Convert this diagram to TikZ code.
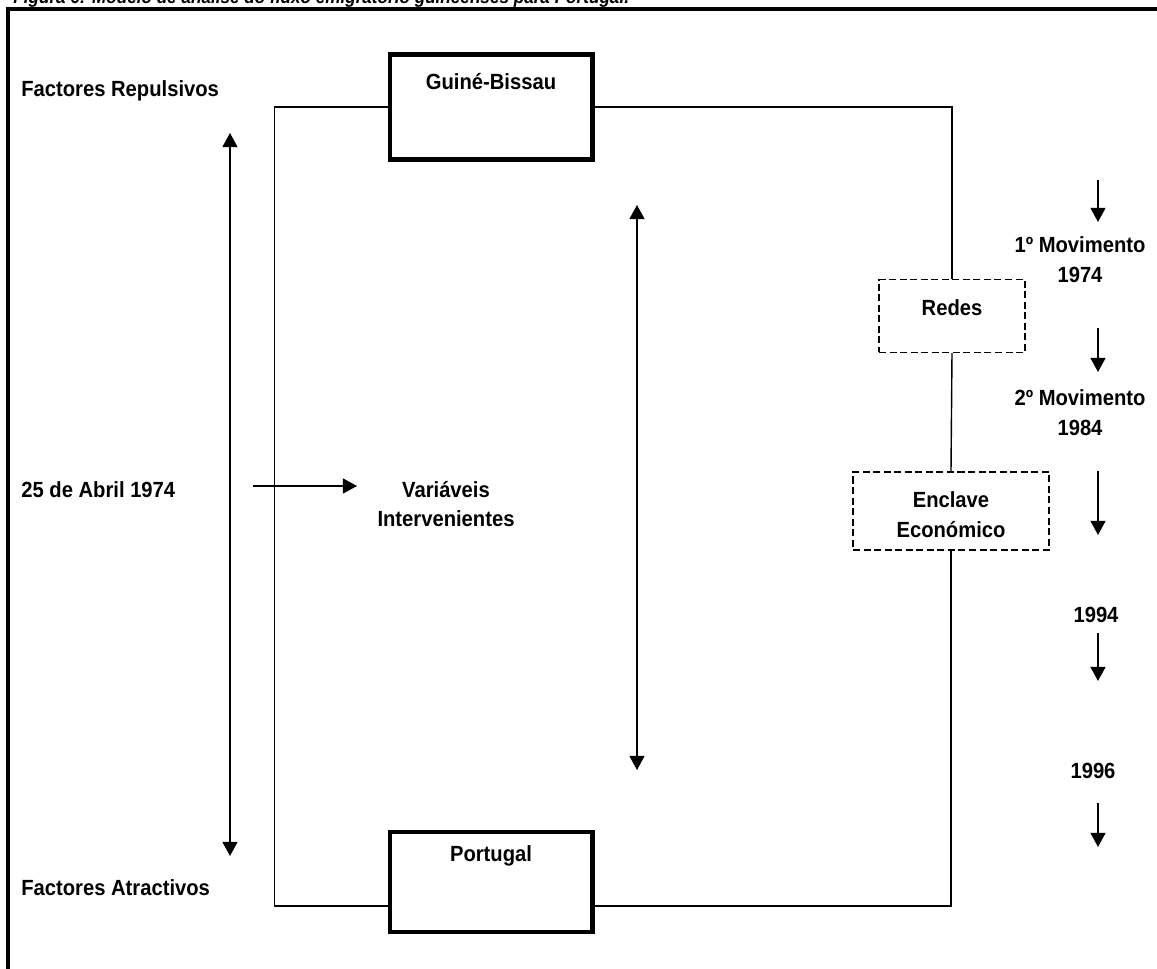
\documentclass[tikz,border=0pt]{standalone}
\usepackage{fontspec}
\setmainfont{Liberation Sans}[FakeStretch=0.92]
\usepackage{xcolor}
\usetikzlibrary{arrows.meta, calc}
\tikzset{
        every node/.style={font=\fontsize{12.5}{17}\selectfont\bfseries, inner sep=0pt, align=center},
        mainbox/.style={draw, line width=2.3pt, minimum width=4.06cm},
        dashbox/.style={draw, line width=0.8pt, dash pattern=on 4pt off 2pt},
        conn/.style={line width=0.8pt},
        arr/.style={line width=0.8pt, -{Triangle[length=8pt, width=8.5pt]}},
        dblarr/.style={line width=0.8pt, {Triangle[length=8pt, width=8.5pt]}-{Triangle[length=8pt, width=8.5pt]}}
}

\begin{document}
\begin{tikzpicture}[x=0.02cm, y=-0.02cm]
        \useasboundingbox (0,0) rectangle (1157,969);

        \node[anchor=base west, font=\fontsize{10.6}{11}\selectfont\bfseries\itshape] (title) at (13,4) {Figura 6: Modelo de análise do fluxo emigratório guineenses para Portugal.};
        \draw[line width=2.3pt] (1157,9) -- (8,9) -- (8,969);

        \node[mainbox, minimum height=2.1cm] (gb) at (491,107) {};
        \node (gbt) at (491,82) {Guiné-Bissau};
        \node[mainbox, minimum height=2.0cm] (pt) at (491,882) {};
        \node (ptt) at (491,856) {Portugal};

        \node[dashbox, minimum width=2.92cm, minimum height=1.46cm] (redes) at (952,316) {};
        \node (redest) at (952,308) {Redes};
        \node[dashbox, minimum width=3.92cm, minimum height=1.56cm] (encl) at (951,511) {};
        \node (enclt) at (951,515) {Enclave\\Económico};

        \coordinate (ptl) at (391,906);
        \coordinate (ptr) at (591,906);
        \draw[conn] (gb.west) -- ++(-113,0) |- (ptl);
        \draw[conn] (gb.east) -| (redes.north);
        \draw[conn] (redes.south) -- (encl.north);
        \draw[conn] (encl.south) |- (ptr);

        \node[anchor=west] (rep) at (21,91) {Factores Repulsivos};
        \node[anchor=west] (atr) at (21,888) {Factores Atractivos};
        \node[anchor=west] (abril) at (21,490) {25 de Abril 1974};
        \node (var) at (446,504) {Variáveis\\Intervenientes};

        \coordinate (lt) at (230,133);
        \coordinate (lb) at (230,856);
        \draw[dblarr] (lt) -- (lb);
        \coordinate (mt) at (637,205);
        \coordinate (mb) at (637,770);
        \draw[dblarr] (mt) -- (mb);
        \draw[arr] (253,486) -- (357,486);

        \node (mov1) at (1080,260) {1º Movimento\\1974};
        \node (mov2) at (1080,413) {2º Movimento\\1984};
        \node (y94) at (1096,615) {1994};
        \node (y96) at (1093,771) {1996};
        \foreach \ya/\yb [count=\i] in {180/222, 328/372, 471/535, 633/681, 803/847} {
                \coordinate (ra\i) at (1098,\ya);
                \coordinate (rb\i) at (1098,\yb);
                \draw[arr] (ra\i) -- (rb\i);
        }
\end{tikzpicture}
\end{document}
